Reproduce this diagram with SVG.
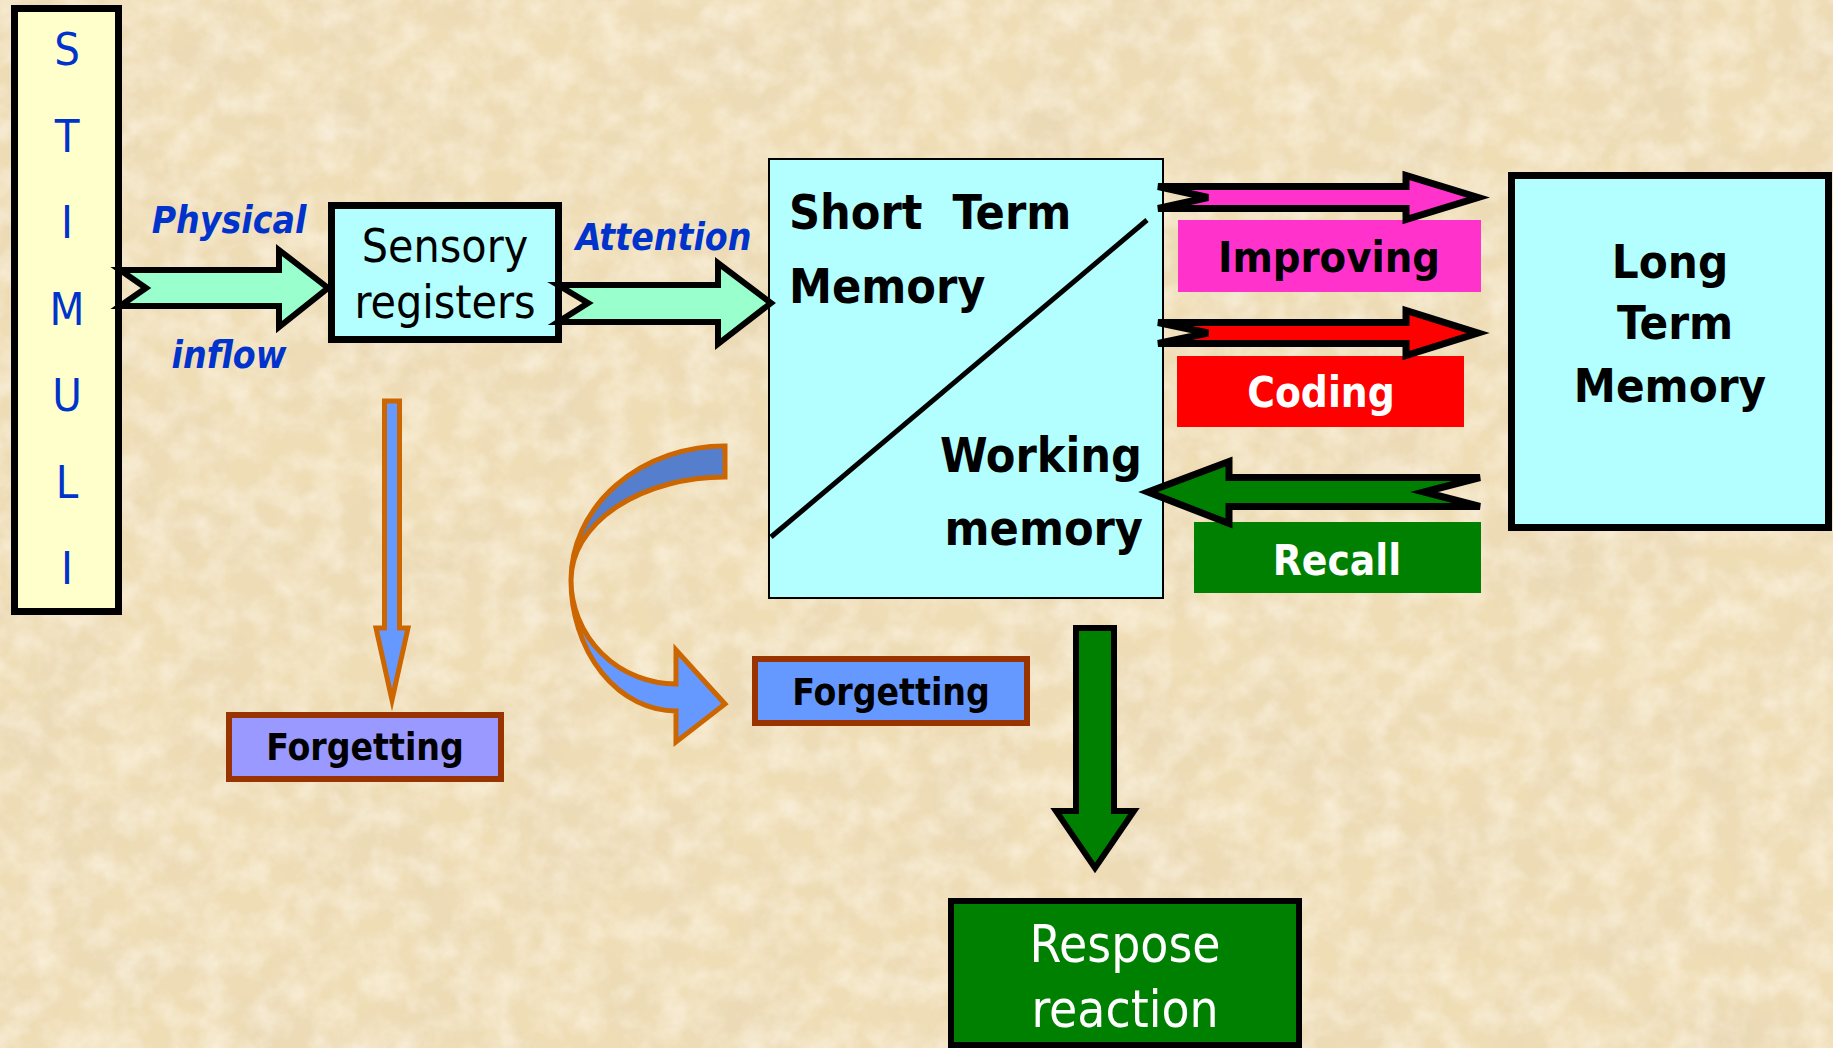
<svg xmlns="http://www.w3.org/2000/svg" width="1833" height="1048" viewBox="0 0 1833 1048">
<style>
.t{font-family:"DejaVu Sans Condensed","DejaVu Sans",sans-serif;font-stretch:condensed;}
.b{font-weight:bold;}
.bi{font-weight:bold;font-style:italic;fill:#0033CC;}
.blk{stroke:#000;stroke-width:7;stroke-linejoin:miter;stroke-miterlimit:4;}
.arr{stroke:#000;stroke-width:6;stroke-linejoin:miter;stroke-miterlimit:4;}
.org{stroke:#CC6600;stroke-width:5;stroke-linejoin:miter;stroke-miterlimit:6;}
.frg{stroke:#993300;stroke-width:6;}
.cyan{fill:#B3FFFF;}
</style>
<defs>
<filter id="paper" x="0" y="0" width="1833" height="1048" filterUnits="userSpaceOnUse">
<feTurbulence type="fractalNoise" baseFrequency="0.01" numOctaves="5" seed="7"/>
<feColorMatrix type="matrix" values="0 0 0 0 0.78  0 0 0 0 0.66  0 0 0 0 0.47  0.9 0 0 0 -0.36"/>
</filter>
<filter id="paper2" x="0" y="0" width="1833" height="1048" filterUnits="userSpaceOnUse">
<feTurbulence type="fractalNoise" baseFrequency="0.035" numOctaves="4" seed="11"/>
<feColorMatrix type="matrix" values="0 0 0 0 1  0 0 0 0 0.96  0 0 0 0 0.87  1.0 0 0 0 -0.35"/>
</filter>
</defs>
<g id="background">
<rect x="0" y="0" width="1833" height="1048" fill="#EFDDB6"/>
<rect x="0" y="0" width="1833" height="1048" filter="url(#paper)"/>
<rect x="0" y="0" width="1833" height="1048" filter="url(#paper2)"/>
</g>

<g id="stimuli">
<rect x="14.5" y="8.5" width="104" height="603" fill="#FFFFCC" stroke="#000" stroke-width="7"/>
<g class="t" font-size="45" fill="#0033CC" text-anchor="middle">
<text x="67" y="65">S</text>
<text x="67" y="152">T</text>
<text x="67" y="238">I</text>
<text x="67" y="325">M</text>
<text x="67" y="411">U</text>
<text x="67" y="498">L</text>
<text x="67" y="584">I</text>
</g>
</g>

<g id="label-physical">
<text class="t bi" font-size="37" x="229" y="233" text-anchor="middle">Physical</text>
<text class="t bi" font-size="37" x="229" y="368" text-anchor="middle">inflow</text>
</g>

<g id="sensory-registers">
<rect x="331.5" y="205.5" width="227" height="134" class="cyan" stroke="#000" stroke-width="7"/>
<text class="t" font-size="46" x="445" y="262" text-anchor="middle">Sensory</text>
<text class="t" font-size="46" x="445" y="318" text-anchor="middle">registers</text>
</g>

<g id="label-attention">
<text class="t bi" font-size="37" x="663.5" y="250" text-anchor="middle">Attention</text>
</g>

<g id="short-term-memory">
<rect x="769" y="159" width="394" height="439" class="cyan" stroke="#000" stroke-width="2"/>
<line x1="771" y1="537" x2="1147" y2="220" stroke="#000" stroke-width="5"/>
<text class="t b" font-size="48" x="789" y="229">Short&#160; Term</text>
<text class="t b" font-size="48" x="789" y="303">Memory</text>
<text class="t b" font-size="48" x="1142" y="472" text-anchor="end">Working</text>
<text class="t b" font-size="48" x="1143" y="545" text-anchor="end">memory</text>
</g>

<g id="improving">
<rect x="1178" y="220" width="303" height="72" fill="#FF33CC"/>
<text class="t b" font-size="43" x="1329" y="272" text-anchor="middle">Improving</text>
</g>
<g id="coding">
<rect x="1177" y="356" width="287" height="71" fill="#FF0000"/>
<text class="t b" font-size="42" x="1321" y="407" text-anchor="middle" fill="#FFFFFF">Coding</text>
</g>
<g id="recall">
<rect x="1194" y="522" width="287" height="71" fill="#008000"/>
<text class="t b" font-size="42" x="1337" y="575" text-anchor="middle" fill="#FFFFFF">Recall</text>
</g>

<g id="long-term-memory">
<rect x="1511.5" y="175.5" width="317" height="352" class="cyan" stroke="#000" stroke-width="7"/>
<text class="t b" font-size="47" x="1670" y="278" text-anchor="middle">Long</text>
<text class="t b" font-size="47" x="1675" y="339" text-anchor="middle">Term</text>
<text class="t b" font-size="47" x="1670" y="402" text-anchor="middle">Memory</text>
</g>

<g id="forgetting-1">
<rect x="229" y="715" width="272" height="64" fill="#9999FF" class="frg"/>
<text class="t b" font-size="37" x="365" y="760" text-anchor="middle">Forgetting</text>
</g>
<g id="forgetting-2">
<rect x="755" y="659" width="272" height="64" fill="#6699FF" class="frg"/>
<text class="t b" font-size="37" x="891" y="705" text-anchor="middle">Forgetting</text>
</g>

<g id="response">
<rect x="951" y="901" width="348" height="144" fill="#008000" stroke="#000" stroke-width="6"/>
<text class="t" font-size="51" x="1125" y="962" text-anchor="middle" fill="#FFFFFF">Respose</text>
<text class="t" font-size="51" x="1125" y="1027" text-anchor="middle" fill="#FFFFFF">reaction</text>
</g>

<g id="connectors">
<polygon id="arrow-physical" class="arr" fill="#99FFCC" points="120,270 279,270 279,250 328,288 279,327 279,306 120,306 146,288"/>
<polygon id="arrow-attention" class="arr" fill="#99FFCC" points="558,285 718,285 718,263 771,303 718,344 718,322 558,322 588,303"/>
<polygon id="arrow-improving" class="blk" fill="#FF33CC" points="1158,186.5 1406,186.5 1406,175.5 1478,197.5 1406,219.5 1406,208.5 1158,208.5 1208,197.5"/>
<polygon id="arrow-coding" class="blk" fill="#FF0000" points="1158,322.5 1406,322.5 1406,310.5 1478,333 1406,355.5 1406,343.5 1158,343.5 1208,333"/>
<polygon id="arrow-recall" class="blk" fill="#008000" points="1148,492 1229,461.5 1229,477.5 1480,477.5 1424,492 1480,506.5 1229,506.5 1229,523.5"/>
<polygon id="arrow-response" class="arr" fill="#008000" points="1076,628 1114,628 1114,811 1134,811 1095,868 1056,811 1076,811"/>
<polygon id="arrow-forget1" class="org" fill="#6699FF" points="384.5,401 399.5,401 399.5,628 408,628 392,700 376,628 384.5,628"/>
<g id="arrow-forget2">
<path class="org" fill="#557FCC" d="M 725,446 A 154 134 0 0 0 571,580 A 154 103 0 0 1 725,477 Z"/>
<path class="org" fill="#6699FF" d="M 571,580 A 105 131 0 0 0 676,711 L 676,742 L 725,704 L 676,650 L 676,684 A 105 104 0 0 1 571,580 Z"/>
</g>
</g>
</svg>
